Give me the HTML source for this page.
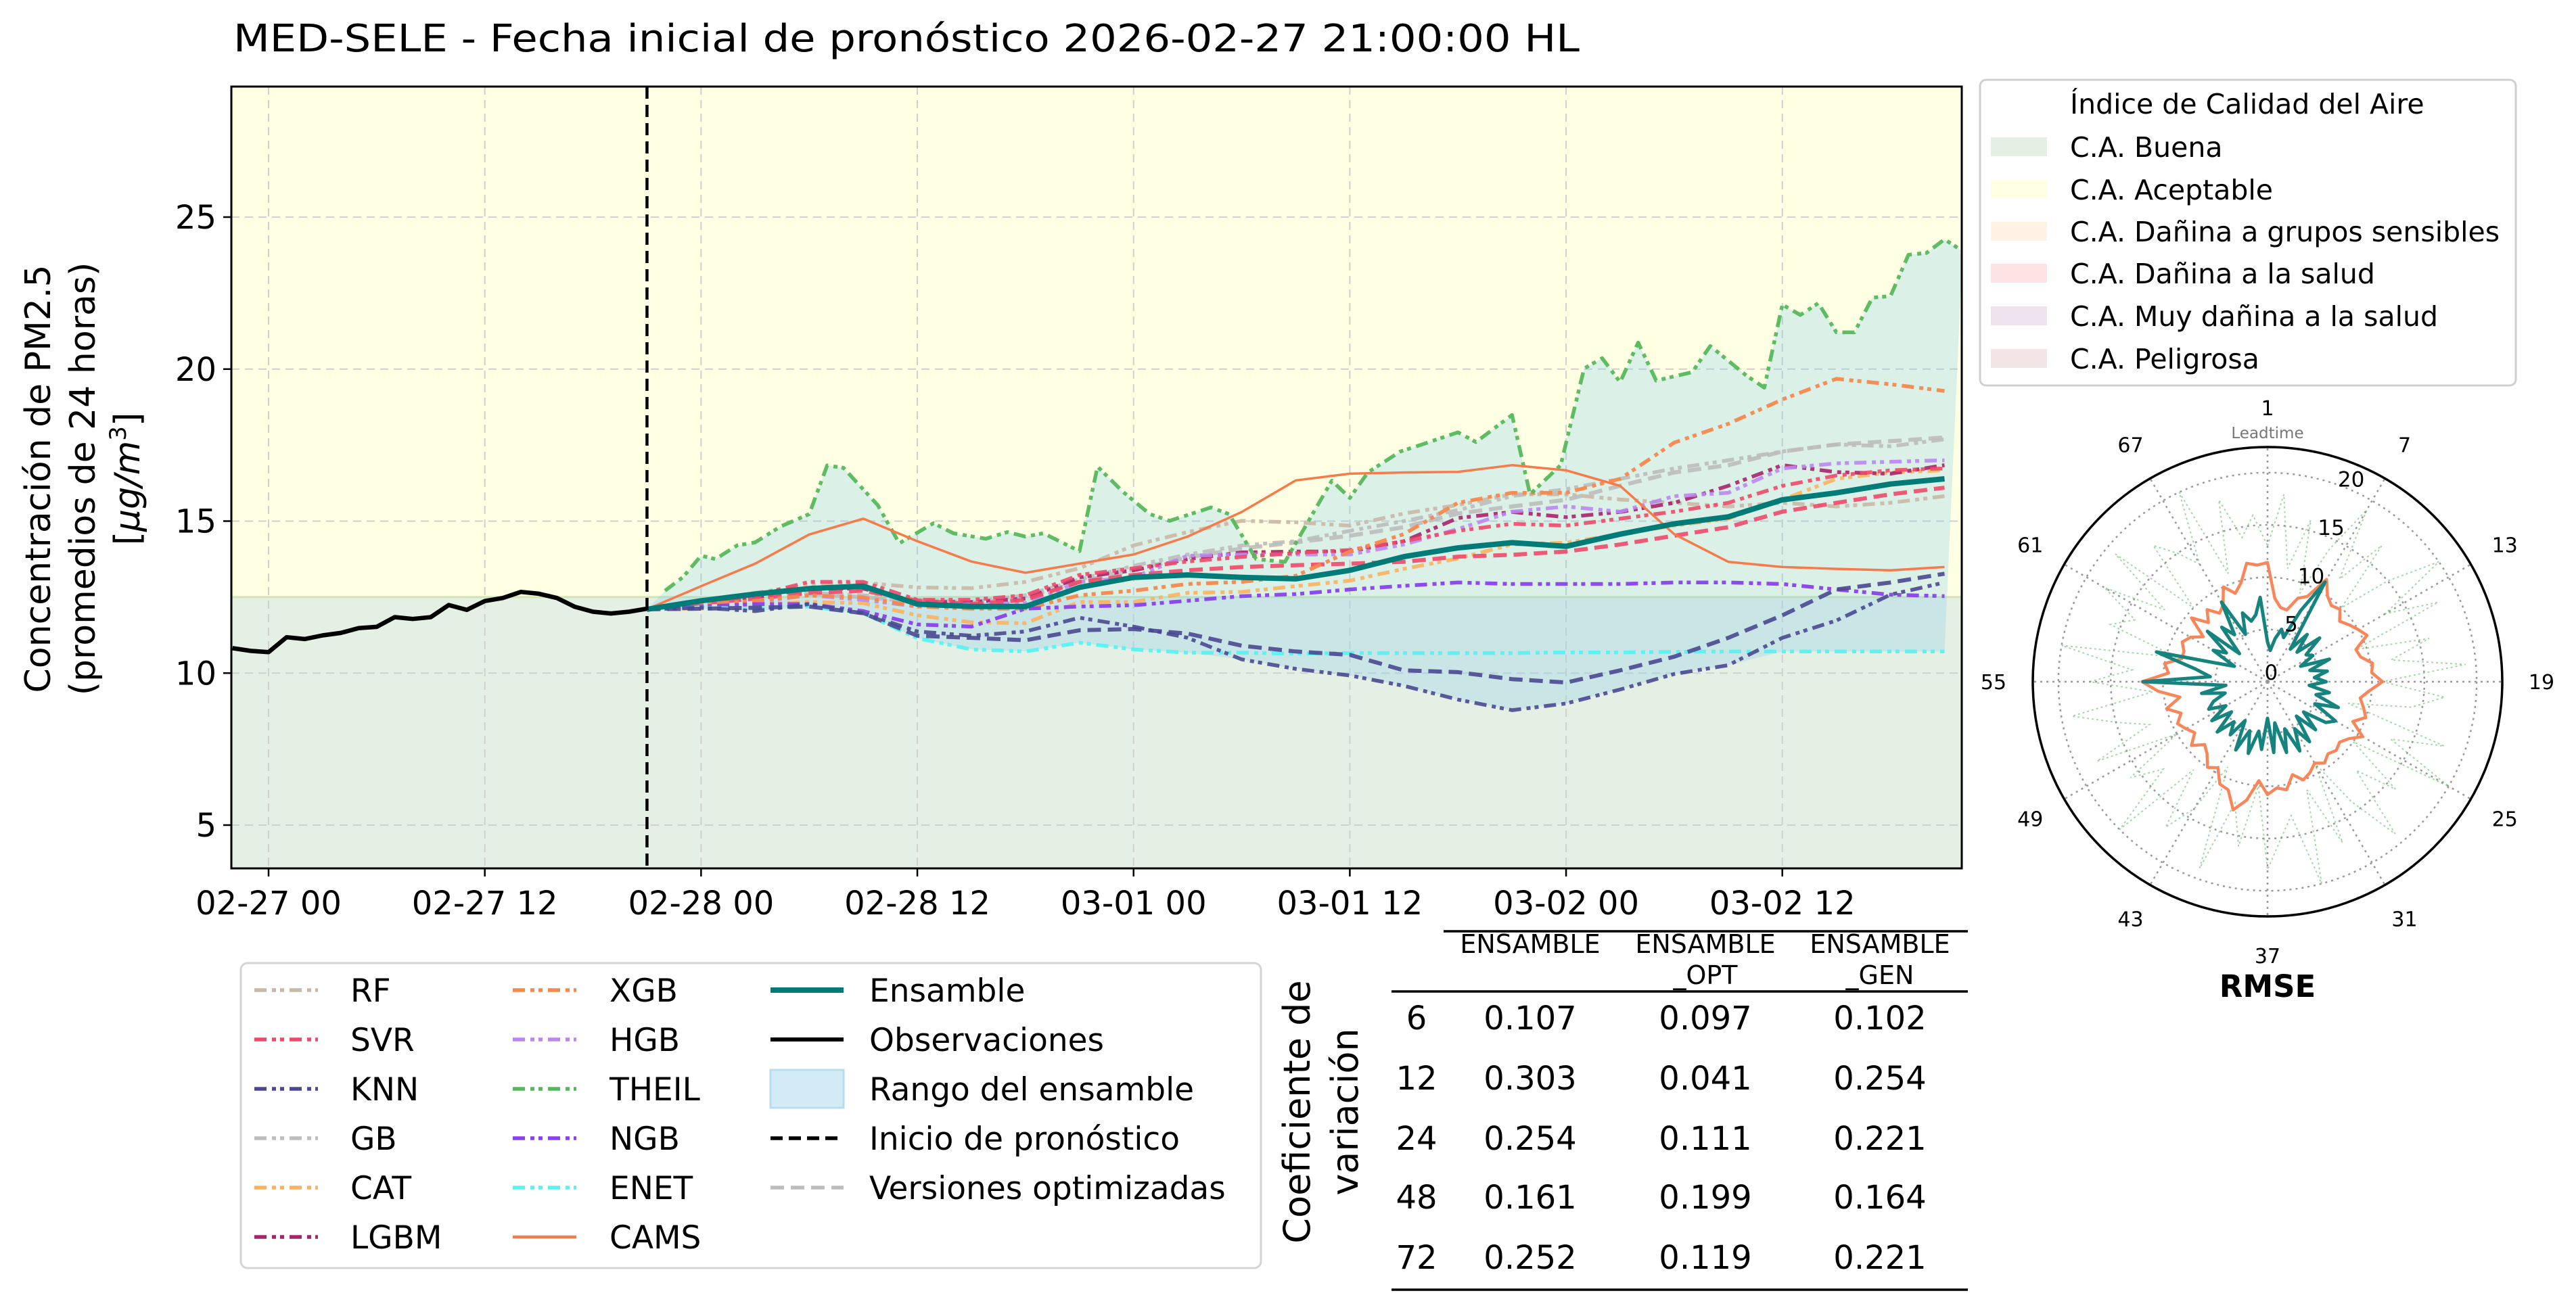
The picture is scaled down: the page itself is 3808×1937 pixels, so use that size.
<!DOCTYPE html>
<html><head><meta charset="utf-8"><style>
html,body{margin:0;padding:0;background:#fff;}
svg{display:block;font-family:"DejaVu Sans","Liberation Sans",sans-serif;}
</style></head><body>
<svg id="fig" xmlns="http://www.w3.org/2000/svg" width="3808" height="1937" viewBox="0 0 3808 1937">
<rect width="3808" height="1937" fill="#fff"/>
<text x="345" y="76" font-size="56" textLength="1990" lengthAdjust="spacingAndGlyphs">MED-SELE - Fecha inicial de pronóstico 2026-02-27 21:00:00 HL</text>
<g id="main"></g>
<g id="legend2"></g>
<g id="ica"></g>
<g id="polar"></g>
<g id="table"></g>
</svg>
<script>
// ---------- data ----------
const obsHours = [-2,-1,0,1,2,3,4,5,6,7,8,9,10,11,12,13,14,15,16,17,18,19,20,21];
const obsValues = [10.82,10.73,10.69,11.18,11.12,11.24,11.32,11.48,11.52,11.84,11.78,11.84,12.24,12.08,12.37,12.47,12.67,12.61,12.47,12.18,12.02,11.96,12.02,12.12];
const fcHours = [21,24,27,30,33,36,39,42,45,48,51,54,57,60,63,66,69,72,75,78,81,84,87,90,93];
const ensambleValues = [12.1,12.38,12.6,12.78,12.86,12.27,12.19,12.19,12.82,13.15,13.23,13.15,13.1,13.38,13.83,14.12,14.29,14.17,14.57,14.91,15.14,15.7,15.93,16.22,16.39];
const camsValues = [12.1,12.86,13.6,14.56,15.08,14.34,13.67,13.3,13.6,13.9,14.49,15.3,16.34,16.56,16.6,16.62,16.84,16.67,16.16,14.57,13.66,13.49,13.43,13.38,13.49];
const rfValues = [12.1,12.38,12.64,12.9,12.97,12.82,12.79,13.0,13.45,14.2,14.64,15.01,14.96,14.85,15.25,15.53,15.88,15.88,15.71,15.6,15.48,15.6,15.48,15.6,15.82];
const svrValues = [12.1,12.34,12.56,13.0,13.0,12.41,12.41,12.56,13.23,13.45,13.67,13.82,13.95,14.05,14.34,14.68,14.91,14.85,15.08,15.31,15.6,16.16,16.5,16.67,16.73];
const svrOptValues = [12.1,12.3,12.45,12.64,12.71,12.38,12.27,12.41,13.0,13.23,13.38,13.49,13.55,13.6,13.66,13.83,13.89,14.0,14.23,14.52,14.8,15.31,15.6,15.88,16.1];
const knnValues = [12.1,12.15,12.04,12.27,11.97,11.37,11.23,11.37,11.82,11.53,11.16,10.45,10.14,9.92,9.58,9.13,8.78,9.0,9.46,9.97,10.26,11.16,11.73,12.58,12.98];
const knnOptValues = [12.1,12.12,12.15,12.19,11.97,11.23,11.16,11.08,11.41,11.45,11.3,10.9,10.71,10.6,10.09,10.03,9.8,9.69,10.09,10.54,11.16,11.9,12.75,12.98,13.27];
const gbValues = [12.1,12.34,12.56,12.64,12.56,12.41,12.34,12.56,13.08,13.53,13.9,14.2,14.34,14.68,15.0,15.36,15.82,16.05,16.39,16.73,17.0,17.29,17.52,17.46,17.69];
const gbOptValues = [12.1,12.3,12.5,12.6,12.5,12.35,12.3,12.5,13.0,13.4,13.8,14.1,14.3,14.52,14.8,15.25,15.48,15.7,16.16,16.6,16.84,17.29,17.52,17.63,17.75];
const catValues = [12.1,12.12,12.27,12.34,12.3,11.9,11.67,11.64,12.34,12.34,12.64,12.67,12.86,13.04,13.43,13.77,14.23,14.29,14.57,14.85,15.08,15.7,16.39,16.6,16.67];
const lgbmValues = [12.1,12.34,12.49,12.78,12.78,12.34,12.34,12.45,13.15,13.38,13.75,13.97,14.0,14.0,14.34,15.1,15.3,15.13,15.3,15.6,16.16,16.84,16.61,16.56,16.84];
const xgbValues = [12.1,12.27,12.38,12.56,12.49,12.19,12.12,12.12,12.56,12.71,12.93,13.0,13.2,14.0,14.57,15.6,15.93,15.93,16.39,17.58,18.2,19.0,19.68,19.5,19.28];
const hgbValues = [12.1,12.27,12.34,12.56,12.41,12.19,12.27,12.3,13.0,13.15,13.86,13.9,13.9,13.9,14.23,14.74,15.31,15.48,15.31,15.82,15.93,16.73,16.9,16.95,17.0];
const ngbValues = [12.1,12.19,12.27,12.27,12.04,11.6,11.53,12.12,12.19,12.23,12.38,12.53,12.6,12.75,12.87,12.98,12.93,12.93,12.93,12.98,12.98,12.93,12.75,12.58,12.53];
const enetValues = [12.1,12.15,12.12,12.19,11.97,11.15,10.78,10.71,11.0,10.78,10.67,10.67,10.64,10.66,10.66,10.66,10.66,10.68,10.68,10.7,10.71,10.71,10.71,10.71,10.71];
const theilHours = [22,23,24,24.8,26,27,28.4,30,31,31.9,33.8,35,36.9,38,39.8,41,42,43,45,46,47.4,48.9,50,52.3,53.3,54.8,56.4,59,60,61,62.8,64,66,67,69,70,71.7,73,74,75,76,77,79,80,82,83,84,85,86,87,88,89,90,91,92,93,94];
const theilValues = [12.71,13.16,13.86,13.75,14.2,14.3,14.82,15.23,16.83,16.75,15.53,14.27,14.93,14.6,14.42,14.64,14.49,14.6,14.01,16.79,15.97,15.23,15.01,15.45,15.23,13.75,13.66,16.33,15.76,16.6,17.29,17.52,17.92,17.6,18.49,15.88,16.84,20.02,20.36,19.57,20.87,19.62,19.9,20.76,19.79,19.39,22.12,21.78,22.17,21.21,21.21,22.35,22.4,23.76,23.82,24.27,23.88];
const yTicks = [5,10,15,20,25];
const xTickHours = [0,12,24,36,48,60,72,84];
const xTickLabels = ["02-27 00","02-27 12","02-28 00","02-28 12","03-01 00","03-01 12","03-02 00","03-02 12"];
const forecastStartHour = 21;
const goodThreshold = 12.5;

// polar RMSE by leadtime 1..72
const rmseEnsamble = [3.8,3.0,4.2,5.2,4.5,7.5,11.0,3.8,5.9,4.0,6.5,4.5,5.0,3.5,6.3,4.2,5.8,4.5,5.6,4.0,6.0,4.8,7.2,5.0,7.5,6.8,4.5,6.5,4.3,7.0,5.2,7.3,4.8,7.0,4.0,6.8,3.5,6.5,4.8,7.1,5.0,7.2,4.3,6.2,5.0,6.8,4.5,6.5,4.6,6.2,5.5,4.2,6.4,4.0,11.9,5.5,7.0,11.0,5.2,3.5,6.0,4.8,7.5,3.8,6.8,5.5,8.8,5.0,7.0,6.0,6.5,8.1];
const rmseCams = [11.4,8.0,7.2,7.1,8.5,9.0,11.3,10.0,9.5,9.8,9.0,9.5,10.0,10.5,9.0,9.2,10.2,10.0,11.0,9.8,9.0,9.5,10.0,9.0,10.5,9.5,9.0,9.3,9.0,9.5,9.0,9.6,10.0,9.2,10.5,10.2,10.8,9.5,11.5,12.7,11.0,10.8,9.5,10.0,9.0,8.5,9.5,8.5,9.0,9.5,8.8,10.0,8.5,10.5,12.0,9.5,10.0,8.5,8.5,9.0,8.5,7.5,9.5,8.0,9.0,8.0,8.5,10.0,9.0,9.8,11.5,11.2];
const rmseTheil = [13,18,11,16,9,14,19,12,17,10,15,20,13,18,9,16,12,19,11,17,14,8,18,13,20,10,16,12,19,14,9,17,11,20,13,15,18,10,16,12,19,9,14,17,11,20,13,16,10,18,12,15,19,11,17,13,20,9,16,14,18,12,19,10,17,15,13,20,11,18,14,16];
const radialTicks = [0,5,10,15,20];
const angleLabels = ["1","7","13","19","25","31","37","43","49","55","61","67"];

// table
const cvLeadtimes = ["6","12","24","48","72"];
const cvEnsamble = ["0.107","0.303","0.254","0.161","0.252"];
const cvOpt = ["0.097","0.041","0.111","0.199","0.119"];
const cvGen = ["0.102","0.254","0.221","0.164","0.221"];

// ---------- helpers ----------
const NS = "http://www.w3.org/2000/svg";
function mk(tag, attrs, parent){const e=document.createElementNS(NS,tag);for(const k in attrs)e.setAttribute(k,attrs[k]);if(parent)parent.appendChild(e);return e;}
const PL=342, PR=2900, PT=128, PB=1284;
function xS(h){return 397 + h*26.64;}
function yS(v){return 321 + (25 - v)*44.95;}
function pathFrom(hs, vs){return hs.map((h,i)=>(i?"L":"M")+xS(h).toFixed(1)+","+yS(vs[i]).toFixed(1)).join(" ");}

// ---------- main plot ----------
const main = document.getElementById('main');
const defs = mk('defs',{},main);
const cp = mk('clipPath',{id:'pc'},defs);
mk('rect',{x:PL,y:PT,width:PR-PL,height:PB-PT},cp);
const band1 = mk('rect',{x:PL,y:PT,width:PR-PL,height:yS(goodThreshold)-PT,fill:'#ffffe4'},main);


const band2 = mk('rect',{x:PL,y:yS(goodThreshold),width:PR-PL,height:PB-yS(goodThreshold),fill:'#e5f0e4'},main);


mk('line',{x1:PL,x2:PR,y1:yS(goodThreshold),y2:yS(goodThreshold),stroke:'#cfe6b0','stroke-width':3},main);
xTickHours.forEach(h=>{const g=mk('line',{x1:xS(h),x2:xS(h),y1:PT,y2:PB,stroke:'#d0d0d0','stroke-width':2,'stroke-dasharray':'12 8'},main);

});
yTicks.forEach(v=>{const g=mk('line',{x1:PL,x2:PR,y1:yS(v),y2:yS(v),stroke:'#d0d0d0','stroke-width':2,'stroke-dasharray':'12 8'},main);

});
const plotG = mk('g',{'clip-path':'url(#pc)'},main);
const allFc=[ensambleValues,camsValues,rfValues,svrValues,svrOptValues,knnValues,knnOptValues,gbValues,gbOptValues,catValues,lgbmValues,xgbValues,hgbValues,ngbValues,enetValues];
const lower = fcHours.map((h,i)=>Math.min(...allFc.map(a=>a[i])));
let fd = "M"+xS(fcHours[0])+","+yS(ensambleValues[0]);
theilHours.forEach((h,i)=>{fd+=" L"+xS(h).toFixed(1)+","+yS(theilValues[i]).toFixed(1);});
for(let i=fcHours.length-1;i>=0;i--){fd+=" L"+xS(fcHours[i]).toFixed(1)+","+yS(lower[i]).toFixed(1);}
fd+=" Z";
const rf = mk('path',{d:fd,fill:'rgba(135,206,235,0.3)',stroke:'none'},plotG);


const DD='18 8 6 6 6 8';
const series=[
 ['rf-line',fcHours,rfValues,'#c9b8a6',5.5,DD,0.9],
 ['gb-line',fcHours,gbValues,'#bdbdbd',5.5,DD,0.9],
 ['gb-opt-line',fcHours,gbOptValues,'#bdbdbd',6,'20 10',0.9],
 ['cat-line',fcHours,catValues,'#fbb25e',5.5,DD,0.9],
 ['lgbm-line',fcHours,lgbmValues,'#a8246a',5.5,DD,0.9],
 ['hgb-line',fcHours,hgbValues,'#bb86f2',5.5,DD,0.9],
 ['svr-line',fcHours,svrValues,'#f04868',5.5,DD,0.9],
 ['svr-opt-line',fcHours,svrOptValues,'#f04868',6,'20 10',0.9],
 ['xgb-line',fcHours,xgbValues,'#f5884c',5.5,DD,0.95],
 ['ngb-line',fcHours,ngbValues,'#8a3ff0',5.5,DD,0.95],
 ['enet-line',fcHours,enetValues,'#5af2f2',5.5,DD,0.95],
 ['knn-line',fcHours,knnValues,'#4a4890',5.5,DD,0.9],
 ['knn-opt-line',fcHours,knnOptValues,'#4a4890',6,'20 10',0.9],
 ['theil-line',theilHours,theilValues,'#56b85c',5.5,DD,0.95],
 ['cams-line',fcHours,camsValues,'#f77b4a',3.5,'',1],
 ['ensamble-line',fcHours,ensambleValues,'#007b78',8,'',1],
 ['observations-line',obsHours,obsValues,'#000',6.5,'',1]
];
series.forEach(s=>{const p=mk('path',{d:pathFrom(s[1],s[2]),fill:'none',stroke:s[3],'stroke-width':s[4],'stroke-opacity':s[6],'stroke-linejoin':'round'},plotG);
if(s[5])p.setAttribute('stroke-dasharray',s[5]);

});
const fl = mk('line',{x1:xS(forecastStartHour),x2:xS(forecastStartHour),y1:PT,y2:PB,stroke:'#000','stroke-width':4.5,'stroke-dasharray':'18 9'},main);


mk('rect',{x:PL,y:PT,width:PR-PL,height:PB-PT,fill:'none',stroke:'#000','stroke-width':3},main);
yTicks.forEach(v=>{mk('line',{x1:PL-12,x2:PL,y1:yS(v),y2:yS(v),stroke:'#000','stroke-width':2.5},main);
const t=mk('text',{x:PL-22,y:yS(v)+17,'font-size':48,'text-anchor':'end'},main);t.textContent=v;

});
xTickHours.forEach((h,i)=>{mk('line',{x1:xS(h),x2:xS(h),y1:PB,y2:PB+12,stroke:'#000','stroke-width':2.5},main);
const t=mk('text',{x:xS(h),y:1352,'font-size':48,'text-anchor':'middle'},main);t.textContent=xTickLabels[i];

});
[['Concentración de PM2.5',74],['(promedios de 24 horas)',140]].forEach(l=>{
 const t=mk('text',{x:0,y:0,'font-size':52,'text-anchor':'middle',transform:`translate(${l[1]},708) rotate(-90)`},main);
 t.textContent=l[0];
 
 });
const u=mk('text',{x:0,y:0,'font-size':52,'text-anchor':'middle',transform:'translate(206,708) rotate(-90)'},main);


u.innerHTML='[<tspan font-style="italic">μg/m</tspan><tspan font-size="34" dy="-20">3</tspan><tspan dy="20">]</tspan>';

// ---------- model legend ----------
const lg=document.getElementById('legend2');
mk('rect',{x:356,y:1424,width:1508,height:451,rx:10,fill:'#fff',stroke:'#d4d4d4','stroke-width':3},lg);
const rowsY=[1464,1537,1610,1683,1756,1829];
const legItems=[
 [376,518,0,'RF','#c9b8a6',DD,'line'],[376,518,1,'SVR','#f04868',DD,'line'],[376,518,2,'KNN','#4a4890',DD,'line'],
 [376,518,3,'GB','#bdbdbd',DD,'line'],[376,518,4,'CAT','#fbb25e',DD,'line'],[376,518,5,'LGBM','#a8246a',DD,'line'],
 [758,901,0,'XGB','#f5884c',DD,'line'],[758,901,1,'HGB','#bb86f2',DD,'line'],[758,901,2,'THEIL','#56b85c',DD,'line'],
 [758,901,3,'NGB','#8a3ff0',DD,'line'],[758,901,4,'ENET','#5af2f2',DD,'line'],[758,901,5,'CAMS','#f77b4a','','cams'],
 [1139,1285,0,'Ensamble','#007b78','','ens'],[1139,1285,1,'Observaciones','#000','','obs'],[1139,1285,2,'Rango del ensamble','#d3ebf7','','patch'],
 [1139,1285,3,'Inicio de pronóstico','#000','18 9','dash'],[1139,1285,4,'Versiones optimizadas','#bdbdbd','20 10','dash']
];
legItems.forEach(it=>{
 const y=rowsY[it[2]];
 const g=mk('g',{},lg);
 
 
 const w=(it[0]===1139)?108:94;
 if(it[6]==='patch'){mk('rect',{x:it[0],y:y-28,width:w,height:56,fill:it[4],stroke:'#b8dcef','stroke-width':3},g);}
 else{const sw=it[6]==='ens'?8:(it[6]==='obs'?6:(it[6]==='cams'?4.5:5.5));
  const l=mk('line',{x1:it[0],x2:it[0]+w,y1:y,y2:y,stroke:it[4],'stroke-width':sw},g);
  if(it[5])l.setAttribute('stroke-dasharray',it[5]);}
 const t=mk('text',{x:it[1],y:y+17,'font-size':47},g);t.textContent=it[3];
});

// ---------- ICA legend ----------
const ica=document.getElementById('ica');
mk('rect',{x:2927,y:118,width:792,height:452,rx:9,fill:'#fff',stroke:'#d0d0d0','stroke-width':3},ica);
const it0=mk('text',{x:3060,y:168,'font-size':41},ica);it0.textContent='Índice de Calidad del Aire';


const icaNames=['C.A. Buena','C.A. Aceptable','C.A. Dañina a grupos sensibles','C.A. Dañina a la salud','C.A. Muy dañina a la salud','C.A. Peligrosa'];
const icaColors=['#e5f0e4','#ffffe4','#fef3e4','#fde3e4','#efe3f0','#f3e4e6'];
const icaY=[217,280,342,404,467,530];
icaNames.forEach((n,i)=>{const g=mk('g',{},ica);
 
 
 mk('rect',{x:2943,y:icaY[i]-14,width:83,height:28,fill:icaColors[i]},g);
 const t=mk('text',{x:3060,y:icaY[i]+15,'font-size':41},g);t.textContent=n;});

// ---------- polar ----------
const po=document.getElementById('polar');
const CX=3352, CY=1008, RR=347, RMAX=22.45;
function rS(v){return v/RMAX*RR;}
function pt(lt,v){const a=(lt-1)*5*Math.PI/180;const r=rS(v);return [CX+r*Math.sin(a),CY-r*Math.cos(a)];}
radialTicks.slice(1).forEach(v=>{const c=mk('circle',{cx:CX,cy:CY,r:rS(v),fill:'none',stroke:'#999','stroke-width':2.5,'stroke-dasharray':'3 6'},po);

});
angleLabels.forEach((lab,i)=>{const a=i*30*Math.PI/180;
 const s=mk('line',{x1:CX,y1:CY,x2:CX+RR*Math.sin(a),y2:CY-RR*Math.cos(a),stroke:'#999','stroke-width':2.5,'stroke-dasharray':'3 6'},po);
 
 
 const t=mk('text',{x:CX+405*Math.sin(a),y:CY-405*Math.cos(a)+11,'font-size':30,'text-anchor':'middle'},po);t.textContent=lab;
 
 });
function polyPath(vals){return vals.map((v,i)=>{const p=pt(i+1,v);return (i?"L":"M")+p[0].toFixed(1)+","+p[1].toFixed(1);}).join(" ")+" Z";}
const pth=mk('path',{d:polyPath(rmseTheil),fill:'none',stroke:'#56b85c','stroke-width':2,'stroke-opacity':0.55,'stroke-dasharray':'3 4'},po);


const pc=mk('path',{d:polyPath(rmseCams),fill:'none',stroke:'#f7875a','stroke-width':4.5,'stroke-linejoin':'round'},po);


const pe=mk('path',{d:polyPath(rmseEnsamble),fill:'none',stroke:'#16837e','stroke-width':5,'stroke-linejoin':'round'},po);


mk('circle',{cx:CX,cy:CY,r:RR,fill:'none',stroke:'#000','stroke-width':3.5},po);
radialTicks.forEach(v=>{const a=22.5*Math.PI/180;const r=rS(v)+14;
 const t=mk('text',{x:CX+r*Math.sin(a),y:CY-r*Math.cos(a)+10,'font-size':31,'text-anchor':'middle'},po);t.textContent=v;
 
 });
const ltl=mk('text',{x:CX,y:648,'font-size':23,'text-anchor':'middle',fill:'#777'},po);ltl.textContent='Leadtime';


const rm=mk('text',{x:CX,y:1474,'font-size':45,'font-weight':'bold','text-anchor':'middle'},po);rm.textContent='RMSE';



// ---------- table ----------
const tb=document.getElementById('table');
[['Coeficiente de',1917],['variación',1988]].forEach(l=>{const t=mk('text',{x:0,y:0,'font-size':54,'text-anchor':'middle',transform:`translate(${l[1]+19},1644) rotate(-90)`},tb);t.textContent=l[0];

});
mk('line',{x1:2134,x2:2909,y1:1377,y2:1377,stroke:'#000','stroke-width':3.5},tb);
mk('line',{x1:2057,x2:2909,y1:1466,y2:1466,stroke:'#000','stroke-width':3.5},tb);
mk('line',{x1:2057,x2:2909,y1:1907,y2:1907,stroke:'#000','stroke-width':3.5},tb);
const colX=[2262,2521,2779];
[['ENSAMBLE',''],['ENSAMBLE','_OPT'],['ENSAMBLE','_GEN']].forEach((h,i)=>{
 const t=mk('text',{x:colX[i],y:1409,'font-size':38,'text-anchor':'middle'},tb);t.textContent=h[0];
 
 
 if(h[1]){const t2=mk('text',{x:colX[i],y:1455,'font-size':38,'text-anchor':'middle'},tb);t2.textContent=h[1];}});
const rowY=[1505,1594,1683,1770,1859];
cvLeadtimes.forEach((lt,i)=>{
 const r=mk('text',{x:2094,y:rowY[i]+17,'font-size':48,'text-anchor':'middle'},tb);r.textContent=lt;
 
 
 [cvEnsamble,cvOpt,cvGen].forEach((col,j)=>{const c=mk('text',{x:colX[j],y:rowY[i]+17,'font-size':48,'text-anchor':'middle'},tb);c.textContent=col[i];
 
 });
});
</script>
</body></html>
